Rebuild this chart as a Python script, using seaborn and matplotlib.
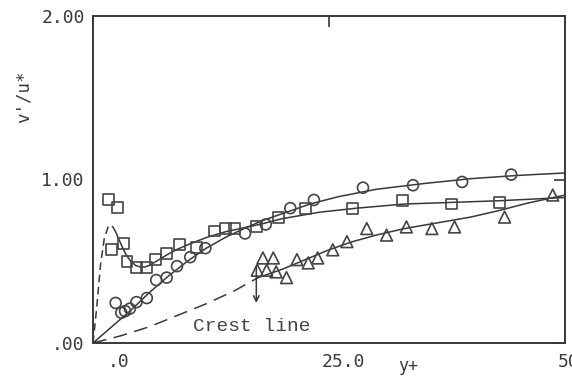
import matplotlib
matplotlib.use("Agg")
import matplotlib.pyplot as plt
from matplotlib.transforms import ScaledTranslation
import seaborn as sns
import pandas as pd

# ---- data ----
sq_x = [1.6, 2.6, 2.0, 3.2, 3.6, 4.6, 5.7, 6.6, 7.8, 9.2, 11.0, 12.9, 14.0, 15.0, 17.3, 19.7, 22.5, 27.5, 32.8, 38.0, 43.1]
sq_y = [0.875, 0.83, 0.57, 0.61, 0.50, 0.46, 0.46, 0.51, 0.55, 0.60, 0.585, 0.685, 0.70, 0.70, 0.71, 0.765, 0.825, 0.82, 0.87, 0.85, 0.86]

ci_x = [2.4, 3.0, 3.4, 3.9, 4.6, 5.7, 6.7, 7.8, 8.9, 10.3, 11.9, 16.1, 18.3, 20.9, 23.4, 28.6, 33.9, 39.1, 44.3]
ci_y = [0.245, 0.185, 0.195, 0.21, 0.25, 0.275, 0.385, 0.40, 0.47, 0.525, 0.58, 0.67, 0.725, 0.825, 0.875, 0.95, 0.965, 0.985, 1.03]

tr_x = [17.4, 18.0, 19.1, 18.4, 19.4, 20.5, 21.6, 22.8, 23.8, 25.4, 26.9, 29.0, 31.1, 33.2, 35.9, 38.3, 43.6, 48.7]
tr_y = [0.445, 0.52, 0.52, 0.445, 0.435, 0.40, 0.51, 0.49, 0.52, 0.57, 0.62, 0.70, 0.66, 0.71, 0.70, 0.71, 0.77, 0.905]

# fitted curves
ci_fit_x = [0, 2, 4, 6, 8, 10, 12, 14, 16, 18, 20, 23, 26, 30, 35, 40, 45, 50]
ci_fit_y = [0, 0.10, 0.20, 0.31, 0.41, 0.50, 0.58, 0.645, 0.70, 0.75, 0.79, 0.85, 0.895, 0.94, 0.975, 1.005, 1.025, 1.04]

sq_dash_x = [0, 0.4, 0.8, 1.2, 1.6, 2.0, 2.4]
sq_dash_y = [0, 0.22, 0.48, 0.64, 0.71, 0.72, 0.68]
sq_fit_x = [2.4, 3, 3.5, 4, 4.5, 5, 5.5, 6, 7, 8, 9, 10, 12, 14, 16, 18, 20, 24, 28, 33, 38, 43, 50]
sq_fit_y = [0.68, 0.60, 0.54, 0.50, 0.475, 0.465, 0.465, 0.475, 0.51, 0.545, 0.575, 0.60, 0.645, 0.68, 0.705, 0.73, 0.76, 0.80, 0.825, 0.85, 0.86, 0.87, 0.89]

tr_dash_x = [0, 3, 6, 9, 12, 15, 17.5]
tr_dash_y = [0, 0.045, 0.10, 0.17, 0.24, 0.32, 0.40]
tr_fit_x = [17.5, 20, 22.5, 25, 27.5, 30, 33, 36, 40, 43, 46, 50]
tr_fit_y = [0.40, 0.45, 0.51, 0.57, 0.62, 0.66, 0.70, 0.73, 0.77, 0.81, 0.855, 0.905]

x_ticks = [0, 25, 50]
x_ticklabels = [".0", "25.0", "50.0"]
y_ticks = [0, 1, 2]
y_ticklabels = [".00", "1.00", "2.00"]

arrow_x = 17.3
arrow_y = [0.47, 0.245]

# ---- style ----
sns.set_theme(style="white")
plt.rcParams['font.family'] = ['DejaVu Sans Mono', 'DejaVu Sans']
dark = "#383838"
mk = "#444444"

fig = plt.figure(figsize=(5.72, 3.76), dpi=100)
fig.patch.set_facecolor("white")
ax = fig.add_axes([93 / 572, 33 / 376, 472 / 572, 327 / 376])
ax.set_facecolor("white")

lw = 1.1
dash = (0, (9, 5))

sns.lineplot(x=ci_fit_x, y=ci_fit_y, sort=False, color=dark, lw=lw, ax=ax)
sns.lineplot(x=sq_dash_x, y=sq_dash_y, sort=False, color=dark, lw=lw, linestyle=(0, (5, 3)), ax=ax)
sns.lineplot(x=sq_fit_x, y=sq_fit_y, sort=False, color=dark, lw=lw, ax=ax)
sns.lineplot(x=tr_dash_x, y=tr_dash_y, sort=False, color=dark, lw=lw, linestyle=dash, ax=ax)
sns.lineplot(x=tr_fit_x, y=tr_fit_y, sort=False, color=dark, lw=lw, ax=ax)

sns.scatterplot(x=sq_x, y=sq_y, marker="s", s=62, facecolor="none", edgecolor=mk, linewidth=1.2, ax=ax, zorder=3)
sns.scatterplot(x=ci_x, y=ci_y, marker="o", s=62, facecolor="none", edgecolor=mk, linewidth=1.2, ax=ax, zorder=3)
sns.scatterplot(x=tr_x, y=tr_y, marker="^", s=72, facecolor="none", edgecolor=mk, linewidth=1.2, ax=ax, zorder=3)

ax.annotate("", xy=(arrow_x, arrow_y[1]), xytext=(arrow_x, arrow_y[0]),
            arrowprops=dict(arrowstyle="->", color=dark, lw=1.1, shrinkA=0, shrinkB=0,
                            mutation_scale=10))

ax.text(10.6, 0.10, "Crest line", family=["Liberation Mono", "DejaVu Sans Mono"],
        fontsize=14, color="#444444", ha="left", va="center")

ax.set_xlim(0, 50)
ax.set_ylim(0, 2)
ax.set_xticks(x_ticks)
ax.set_xticklabels(x_ticklabels)
ax.set_yticks(y_ticks)
ax.set_yticklabels(y_ticklabels)
ax.tick_params(axis="both", direction="in", length=8, width=1.2, colors=dark,
               labelsize=13, top=True, right=True, labelcolor="#3a3a3a")
ax.tick_params(axis="y", pad=6)
ax.tick_params(axis="x", pad=7)

for lab in ax.get_xticklabels():
    lab.set_horizontalalignment("right")
    lab.set_transform(lab.get_transform() + ScaledTranslation(0.36, 0, fig.dpi_scale_trans))

for sp in ax.spines.values():
    sp.set_visible(True)
    sp.set_color(dark)
    sp.set_linewidth(1.4)

ax.set_xlabel("y+", fontsize=12, color="#3a3a3a")
ax.set_ylabel("v'/u*", fontsize=12.5, color="#3a3a3a")
ax.xaxis.set_label_coords((408 - 93) / 472, -(357 - 343) / 327)
ax.yaxis.set_label_coords((33 - 93) / 472, (343 - 97) / 327)

fig.savefig("out.png", dpi=100, facecolor="white")
